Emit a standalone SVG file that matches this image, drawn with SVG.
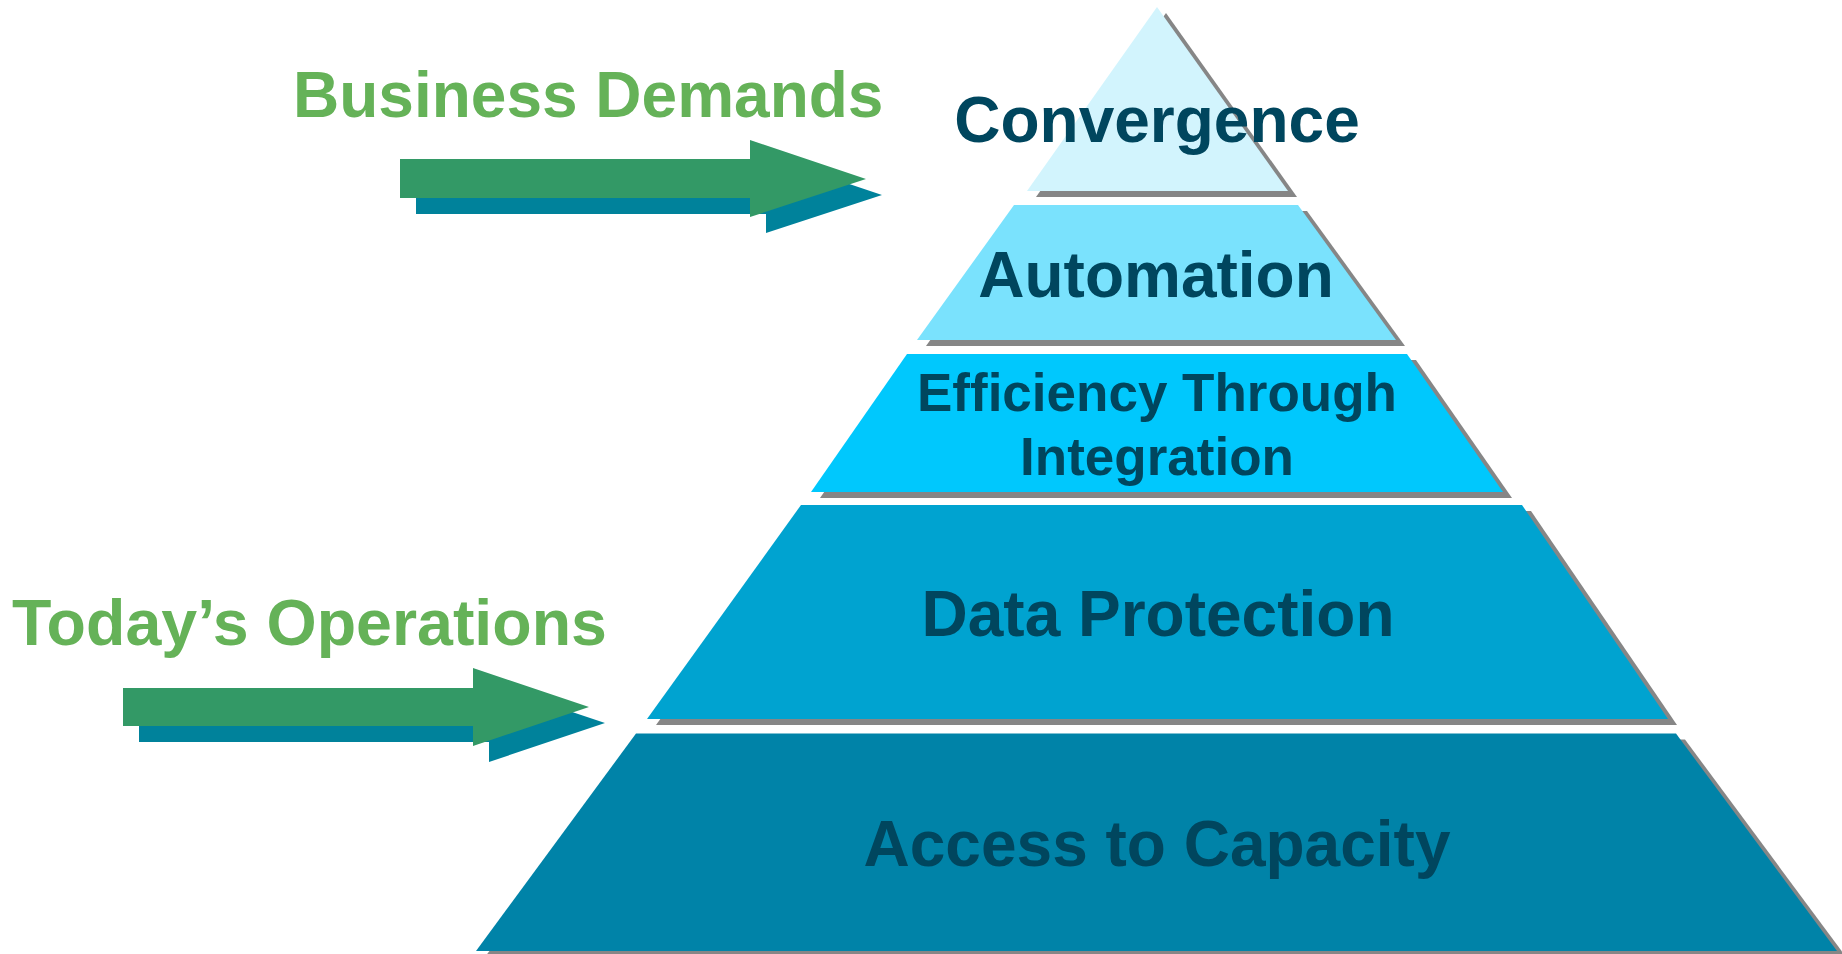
<svg xmlns="http://www.w3.org/2000/svg" width="1842" height="954" viewBox="0 0 1842 954">
<style>
.lbl{font-family:"Liberation Sans",Arial,sans-serif;font-weight:bold;fill:#00465e;text-anchor:middle}
.hd{font-family:"Liberation Sans",Arial,sans-serif;font-weight:bold;fill:#65b258}
.sh{fill:#868686}
.ag{fill:#339966}
.at{fill:#00829b}
</style>
<rect width="1842" height="954" fill="#ffffff"/>
<g id="connectors">
<g id="arrow-business">
<polygon class="at" points="416,175 766,175 766,156 882,195 766,233 766,214 416,214"/>
<polygon class="ag" points="400,159 750,159 750,140 866,179 750,217 750,198 400,198"/>
</g>
<g id="arrow-today">
<polygon class="at" points="139,704 489,704 489,684 605,723 489,762 489,742 139,742"/>
<polygon class="ag" points="123,688 473,688 473,668 589,707 473,746 473,726 123,726"/>
</g>
</g>
<g id="label-business"><text class="hd" x="293" y="117" font-size="64">Business Demands</text></g>
<g id="label-today"><text class="hd" x="12" y="645" font-size="64.5">Today’s Operations</text></g>
<g id="layer-access">
<polygon class="sh" points="645,739.5 1685,739.5 1846,957 485,957"/>
<polygon fill="#0083a8" points="636,733.5 1676,733.5 1837,951 476,951"/>
<text class="lbl" x="1157" y="866" font-size="64">Access to Capacity</text>
</g>
<g id="layer-data">
<polygon class="sh" points="810,511 1531,511 1677,725 656,725"/>
<polygon fill="#00a3d0" points="801,505 1522,505 1668,719 647,719"/>
<text class="lbl" x="1158" y="636" font-size="64">Data Protection</text>
</g>
<g id="layer-efficiency">
<polygon class="sh" points="916,360 1416,360 1512,498 820,498"/>
<polygon fill="#00c8fd" points="907,354 1407,354 1503,492 811,492"/>
<text class="lbl" x="1157" y="411" font-size="53">Efficiency Through</text>
<text class="lbl" x="1157" y="475" font-size="53">Integration</text>
</g>
<g id="layer-automation">
<polygon class="sh" points="1023,211 1307,211 1405,346 926,346"/>
<polygon fill="#7ae2fd" points="1014,205 1298,205 1396,340 917,340"/>
<text class="lbl" x="1156" y="297" font-size="64">Automation</text>
</g>
<g id="layer-convergence">
<polygon class="sh" points="1166,13 1297,197 1036,197"/>
<polygon fill="#d2f4fd" points="1157,7 1288,191 1027,191"/>
<text class="lbl" x="1157" y="142" font-size="64">Convergence</text>
</g>
</svg>
